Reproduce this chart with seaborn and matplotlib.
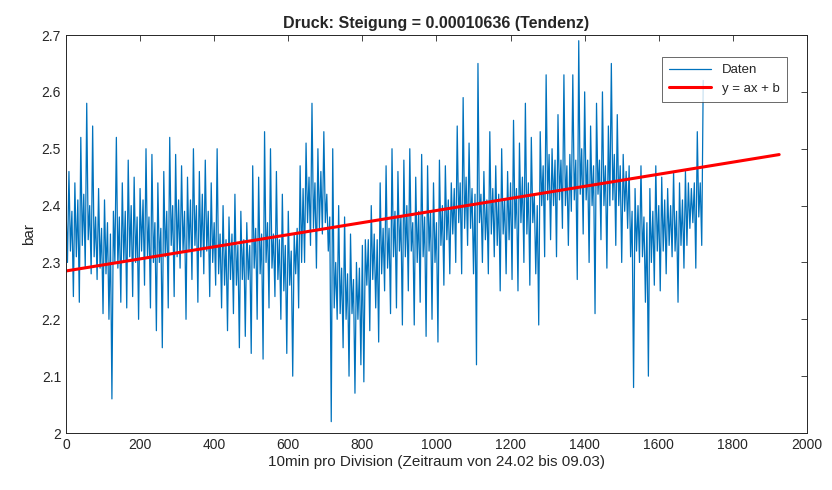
import matplotlib

matplotlib.use("Agg")
import matplotlib.pyplot as plt
import numpy as np
import seaborn as sns
from matplotlib.ticker import FormatStrFormatter, MultipleLocator

# pressure readings, one value every 4 samples (10 min each)
step = 4
druck = [
    2.40, 2.30, 2.46, 2.32, 2.39, 2.24, 2.44, 2.31, 2.41, 2.23, 2.52, 2.33, 2.42, 2.29, 2.58, 2.34, 2.40, 2.28, 2.54, 2.31,
    2.38, 2.27, 2.43, 2.29, 2.36, 2.21, 2.41, 2.28, 2.37, 2.20, 2.35, 2.06, 2.39, 2.30, 2.52, 2.29, 2.38, 2.23, 2.44, 2.30,
    2.39, 2.22, 2.48, 2.31, 2.40, 2.24, 2.45, 2.30, 2.38, 2.20, 2.43, 2.32, 2.41, 2.26, 2.50, 2.31, 2.38, 2.22, 2.49, 2.30,
    2.37, 2.18, 2.44, 2.30, 2.36, 2.15, 2.46, 2.31, 2.39, 2.22, 2.52, 2.33, 2.40, 2.24, 2.49, 2.31, 2.41, 2.29, 2.47, 2.32,
    2.39, 2.20, 2.45, 2.32, 2.41, 2.27, 2.50, 2.33, 2.40, 2.23, 2.46, 2.31, 2.42, 2.28, 2.48, 2.32, 2.39, 2.24, 2.44, 2.30,
    2.37, 2.26, 2.50, 2.28, 2.35, 2.22, 2.40, 2.26, 2.34, 2.18, 2.38, 2.27, 2.35, 2.21, 2.42, 2.26, 2.33, 2.15, 2.39, 2.27,
    2.34, 2.17, 2.37, 2.27, 2.33, 2.14, 2.47, 2.29, 2.36, 2.20, 2.45, 2.28, 2.35, 2.13, 2.53, 2.30, 2.37, 2.22, 2.50, 2.29,
    2.35, 2.24, 2.46, 2.27, 2.34, 2.20, 2.42, 2.25, 2.33, 2.14, 2.39, 2.26, 2.32, 2.10, 2.35, 2.28, 2.36, 2.22, 2.47, 2.30,
    2.43, 2.30, 2.51, 2.37, 2.45, 2.33, 2.58, 2.36, 2.44, 2.29, 2.50, 2.36, 2.46, 2.35, 2.53, 2.37, 2.42, 2.32, 2.38, 2.02,
    2.50, 2.22, 2.30, 2.20, 2.40, 2.21, 2.29, 2.15, 2.38, 2.20, 2.28, 2.10, 2.35, 2.21, 2.27, 2.07, 2.30, 2.20, 2.29, 2.12,
    2.33, 2.09, 2.34, 2.26, 2.34, 2.18, 2.40, 2.27, 2.35, 2.22, 2.34, 2.16, 2.44, 2.28, 2.36, 2.25, 2.47, 2.29, 2.36, 2.21,
    2.50, 2.31, 2.39, 2.22, 2.46, 2.32, 2.38, 2.19, 2.48, 2.31, 2.40, 2.25, 2.50, 2.32, 2.37, 2.19, 2.45, 2.30, 2.39, 2.23,
    2.49, 2.31, 2.38, 2.17, 2.47, 2.32, 2.39, 2.20, 2.44, 2.30, 2.37, 2.16, 2.48, 2.33, 2.40, 2.26, 2.47, 2.34, 2.41, 2.28,
    2.44, 2.35, 2.43, 2.30, 2.54, 2.37, 2.44, 2.28, 2.59, 2.36, 2.45, 2.33, 2.51, 2.36, 2.43, 2.28, 2.42, 2.12, 2.65, 2.37,
    2.42, 2.30, 2.46, 2.34, 2.41, 2.28, 2.53, 2.35, 2.43, 2.31, 2.47, 2.33, 2.42, 2.25, 2.50, 2.35, 2.41, 2.28, 2.46, 2.34,
    2.44, 2.27, 2.55, 2.36, 2.43, 2.25, 2.51, 2.37, 2.45, 2.30, 2.58, 2.35, 2.44, 2.26, 2.52, 2.37, 2.42, 2.28, 2.40, 2.19,
    2.53, 2.40, 2.47, 2.31, 2.63, 2.41, 2.49, 2.34, 2.50, 2.40, 2.48, 2.31, 2.56, 2.41, 2.48, 2.36, 2.63, 2.40, 2.47, 2.33,
    2.49, 2.39, 2.63, 2.41, 2.48, 2.27, 2.69, 2.42, 2.50, 2.35, 2.60, 2.41, 2.48, 2.30, 2.54, 2.40, 2.47, 2.21, 2.58, 2.42,
    2.48, 2.34, 2.60, 2.40, 2.47, 2.29, 2.54, 2.40, 2.65, 2.41, 2.49, 2.33, 2.56, 2.40, 2.47, 2.30, 2.49, 2.39, 2.46, 2.36,
    2.47, 2.31, 2.39, 2.08, 2.43, 2.32, 2.40, 2.30, 2.47, 2.31, 2.38, 2.23, 2.37, 2.10, 2.43, 2.30, 2.39, 2.26, 2.47, 2.32,
    2.40, 2.25, 2.45, 2.32, 2.41, 2.28, 2.43, 2.33, 2.40, 2.31, 2.46, 2.32, 2.39, 2.23, 2.44, 2.33, 2.41, 2.29, 2.46, 2.33,
    2.44, 2.36, 2.43, 2.37, 2.44, 2.29, 2.53, 2.38, 2.44, 2.33, 2.62,
]

# linear fit y = a*x + b as drawn in the reference
slope = 0.00010636
intercept = 2.285
fit_range = [0, 1925]

sns.set_style("white")
plt.rcParams["font.family"] = ["Liberation Sans", "DejaVu Sans"]

x = np.arange(len(druck)) * step
fit_x = np.array(fit_range)
fit_y = slope * fit_x + intercept

fig = plt.figure(figsize=(8.32, 4.9), dpi=100)
ax = fig.add_axes([0.0793, 0.1163, 0.8906, 0.8122])

sns.lineplot(x=x, y=druck, ax=ax, color="#0072BD", linewidth=0.9,
             estimator=None, label="Daten")
sns.lineplot(x=fit_x, y=fit_y, ax=ax, color="#FF0000", linewidth=2.2,
             estimator=None, label="y = ax + b")

ax.set_xlim(0, 2000)
ax.set_ylim(2.0, 2.7)
ax.xaxis.set_major_locator(MultipleLocator(200))
ax.yaxis.set_major_locator(MultipleLocator(0.1))
ax.yaxis.set_major_formatter(FormatStrFormatter("%g"))
ax.tick_params(direction="in", top=True, right=True, length=4, width=0.6,
               labelsize=10, colors="#262626")
for sp in ax.spines.values():
    sp.set_color("#262626")
    sp.set_linewidth(0.7)

ax.set_xlabel("10min pro Division (Zeitraum von 24.02 bis 09.03)", fontsize=11,
              color="#262626", labelpad=2)
ax.set_ylabel("bar", fontsize=11, color="#262626", labelpad=4)
ax.set_title("Druck: Steigung = 0.00010636 (Tendenz)", fontsize=11.5,
             fontweight="bold", pad=5)

leg = ax.legend(loc="upper right", bbox_to_anchor=(0.982, 0.962), fontsize=9.5,
                frameon=True, fancybox=False, edgecolor="#262626",
                handlelength=3.2, borderpad=0.55, labelspacing=0.5)
leg.get_frame().set_linewidth(0.6)

fig.savefig("out.png", dpi=100)
